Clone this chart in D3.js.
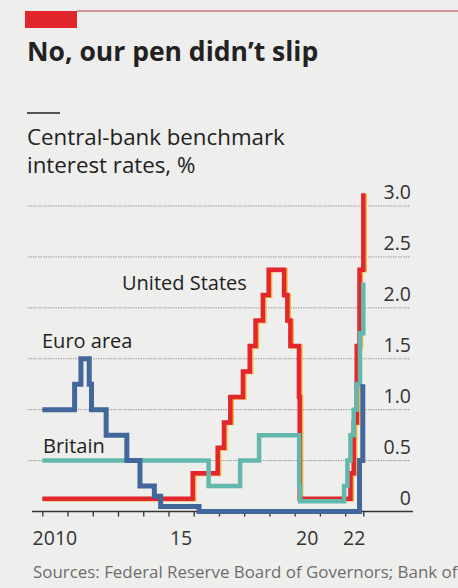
<!DOCTYPE html>
<html>
<head>
<meta charset="utf-8">
<script src="https://cdn.jsdelivr.net/npm/d3@7"></script>
<style>
  body { margin: 0; background: #eeeeec; }
  svg { display: block; font-family: "Open Sans", sans-serif; }
</style>
</head>
<body>
<div id="chart"></div>
<script>

// Policy rates, % (decimal year of each change, new rate)
var usDates = [2010.0, 2015.96, 2016.95, 2017.20, 2017.45, 2017.95, 2018.22, 2018.45, 2018.74, 2018.97,
               2019.58, 2019.71, 2019.83, 2020.17, 2020.20, 2022.21, 2022.34, 2022.46, 2022.57, 2022.72];
var usRates = [0.125, 0.375, 0.625, 0.875, 1.125, 1.375, 1.625, 1.875, 2.125, 2.375,
               2.125, 1.875, 1.625, 1.125, 0.125, 0.375, 0.875, 1.625, 2.375, 3.125];

var euroDates = [2010.0, 2011.28, 2011.53, 2011.86, 2011.95, 2012.53, 2013.35, 2013.87, 2014.44, 2014.69,
                 2016.21, 2022.57, 2022.70];
var euroRates = [1.0, 1.25, 1.5, 1.25, 1.0, 0.75, 0.5, 0.25, 0.15, 0.05,
                 0, 0.5, 1.25];

var britainDates = [2010.0, 2016.59, 2017.84, 2018.59, 2020.18, 2020.22, 2021.96, 2022.09, 2022.21, 2022.34,
                    2022.46, 2022.59, 2022.72];
var britainRates = [0.5, 0.25, 0.5, 0.75, 0.25, 0.1, 0.25, 0.5, 0.75, 1.0,
                    1.25, 1.75, 2.25];

var yTicks = [0, 0.5, 1.0, 1.5, 2.0, 2.5, 3.0];
var yearTicks = [2010, 2011, 2012, 2013, 2014, 2015, 2016, 2017, 2018, 2019, 2020, 2021, 2022];
var yearLabels = ["2010", "15", "20", "22"];
var labelYears = [2010, 2015, 2020, 2022];
var endDate = 2022.72;

var width = 458, height = 588;

var svg = d3.select("#chart").append("svg")
    .attr("width", width)
    .attr("height", height);

svg.append("rect")
    .attr("width", width)
    .attr("height", height)
    .attr("fill", "#eeeeec");

// red tab + top rule
svg.append("rect")
    .attr("x", 25).attr("y", 11)
    .attr("width", 52).attr("height", 17)
    .attr("fill", "#e2262d");
svg.append("line")
    .attr("x1", 77).attr("x2", width)
    .attr("y1", 11).attr("y2", 11)
    .attr("stroke", "#b84347").attr("stroke-width", 1.2);

svg.append("text")
    .attr("x", 27).attr("y", 61)
    .attr("font-size", 26.5).attr("font-weight", "bold")
    .attr("fill", "#222")
    .text("No, our pen didn\u2019t slip");

svg.append("line")
    .attr("x1", 27).attr("x2", 60)
    .attr("y1", 113).attr("y2", 113)
    .attr("stroke", "#222").attr("stroke-width", 1.3);

svg.append("text")
    .attr("x", 27).attr("y", 145)
    .attr("font-size", 22.3).attr("fill", "#222")
    .text("Central-bank benchmark");
svg.append("text")
    .attr("x", 27).attr("y", 173)
    .attr("font-size", 22.3).attr("fill", "#222")
    .text("interest rates, %");

// scales
var x = d3.scaleLinear()
    .domain([2010, endDate])
    .range([42.3, 363.3]);

var y = d3.scaleLinear()
    .domain([0, 3])
    .range([511.5, 206]);

// gridlines + y labels
var grid = svg.append("g");
grid.selectAll("line")
    .data(yTicks.filter(d => d > 0))
    .enter().append("line")
    .attr("x1", 28).attr("x2", 410)
    .attr("y1", d => y(d)).attr("y2", d => y(d))
    .attr("stroke", "#9a9a9a")
    .attr("stroke-width", 1)
    .attr("stroke-dasharray", "1.5,1");

grid.selectAll("text")
    .data(yTicks)
    .enter().append("text")
    .attr("x", 411)
    .attr("y", d => y(d) - 7)
    .attr("text-anchor", "end")
    .attr("font-size", 19.5)
    .attr("fill", "#333")
    .text(d => d === 0 ? "0" : d.toFixed(1));

// x axis
var xAxis = d3.axisBottom(x)
    .tickValues(yearTicks.concat([endDate]))
    .tickSize(5)
    .tickFormat("");

var xAxisGroup = svg.append("g")
    .attr("class", "x-axis")
    .attr("transform", "translate(0," + y(0) + ")")
    .call(xAxis);
xAxisGroup.select(".domain").remove();
xAxisGroup.selectAll("line").attr("stroke", "#333").attr("stroke-width", 1.3);

svg.append("line")
    .attr("x1", 32).attr("x2", 413)
    .attr("y1", y(0)).attr("y2", y(0))
    .attr("stroke", "#333").attr("stroke-width", 1.6);

svg.append("g").selectAll("text")
    .data(labelYears)
    .enter().append("text")
    .attr("x", d => x((d + Math.min(d + 1, endDate)) / 2))
    .attr("y", 545)
    .attr("text-anchor", "middle")
    .attr("font-size", 19.5)
    .attr("fill", "#333")
    .text((d, i) => yearLabels[i]);

// step lines
var line = d3.line()
    .x(d => x(d[0]))
    .y(d => y(d[1]))
    .curve(d3.curveStepAfter);

function toPairs(dates, rates) {
    return dates.map((d, i) => [d, rates[i]]);
}

// US (with a slight print-misregistration edge)
svg.append("path")
    .datum(toPairs(usDates, usRates))
    .attr("d", line)
    .attr("transform", "translate(1.4,0.6)")
    .attr("fill", "none")
    .attr("stroke", "#f2b33a")
    .attr("stroke-width", 4.5);
svg.append("path")
    .datum(toPairs(usDates, usRates))
    .attr("d", line)
    .attr("fill", "none")
    .attr("stroke", "#e2262d")
    .attr("stroke-width", 4.5);

svg.append("path")
    .datum(toPairs(britainDates, britainRates))
    .attr("d", line)
    .attr("fill", "none")
    .attr("stroke", "#63b8ae")
    .attr("stroke-width", 4.5);

svg.append("path")
    .datum(toPairs(euroDates, euroRates))
    .attr("d", line)
    .attr("fill", "none")
    .attr("stroke", "#42679a")
    .attr("stroke-width", 5);

// series labels
svg.append("text").attr("x", 122).attr("y", 290)
    .attr("font-size", 20).attr("fill", "#222").text("United States");
svg.append("text").attr("x", 42).attr("y", 348)
    .attr("font-size", 20).attr("fill", "#222").text("Euro area");
svg.append("text").attr("x", 43).attr("y", 453)
    .attr("font-size", 20).attr("fill", "#222").text("Britain");

svg.append("text")
    .attr("x", 33).attr("y", 578)
    .attr("font-size", 16.9).attr("fill", "#6d6d6d")
    .text("Sources: Federal Reserve Board of Governors; Bank of");

</script>
</body>
</html>
